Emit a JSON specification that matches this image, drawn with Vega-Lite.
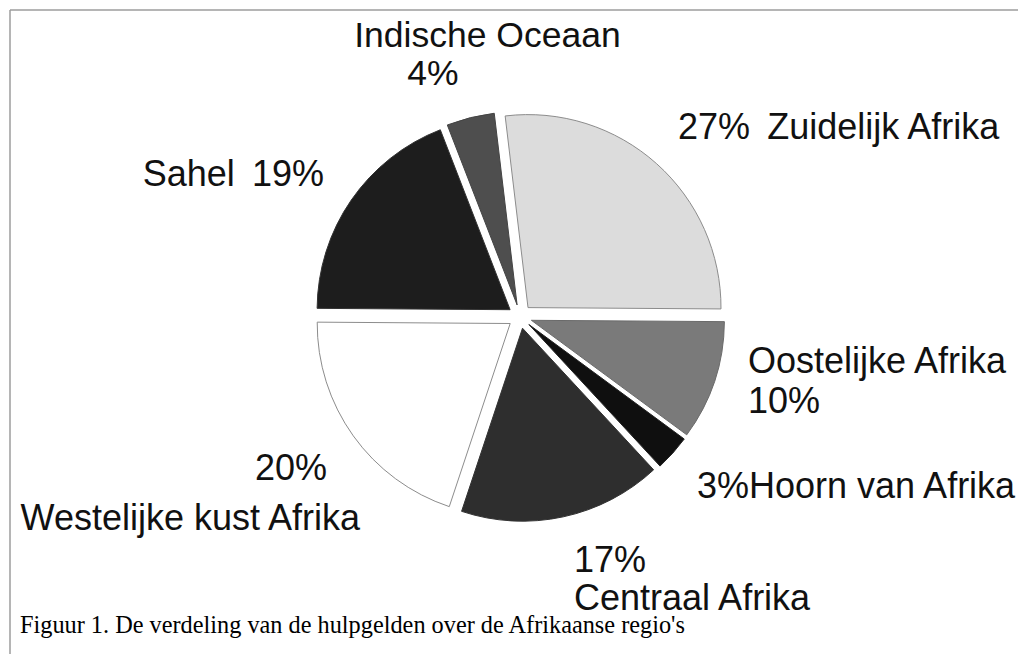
{
  "$schema": "https://vega.github.io/schema/vega-lite/v6.json",
  "width": 1008,
  "height": 644,
  "autosize": {"type": "none"},
  "padding": {"left": 10, "top": 10, "right": 0, "bottom": 0},
  "background": "white",
  "config": {
    "view": {"stroke": null},
    "text": {"font": "Liberation Sans", "fontSize": 36, "color": "#111111", "baseline": "alphabetic"}
  },
  "title": {
    "text": "Figuur 1. De verdeling van de hulpgelden over de Afrikaanse regio's",
    "orient": "bottom",
    "anchor": "start",
    "frame": "group",
    "offset": -22,
    "dx": 10,
    "baseline": "alphabetic",
    "font": "Liberation Serif",
    "fontSize": 24.3,
    "fontWeight": "normal",
    "color": "#000000"
  },
  "data": {
    "values": [
      {"regio": "Zuidelijk Afrika", "aandeel": 27, "volgorde": 1},
      {"regio": "Oostelijke Afrika", "aandeel": 10, "volgorde": 2},
      {"regio": "Hoorn van Afrika", "aandeel": 3, "volgorde": 3},
      {"regio": "Centraal Afrika", "aandeel": 17, "volgorde": 4},
      {"regio": "Westelijke kust Afrika", "aandeel": 20, "volgorde": 5},
      {"regio": "Sahel", "aandeel": 19, "volgorde": 6},
      {"regio": "Indische Oceaan", "aandeel": 4, "volgorde": 7}
    ]
  },
  "transform": [
    {"stack": "aandeel", "groupby": [], "sort": [{"field": "volgorde", "order": "ascending"}], "as": ["p0", "p1"]},
    {"calculate": "(datum.p0 + datum.p1) / 2", "as": "pmid"},
    {"calculate": "datum.aandeel + '%'", "as": "label"}
  ],
  "layer": [
    {
      "transform": [{"filter": "datum.volgorde === 1"}],
      "mark": {"type": "rule", "color": "#9c9c9c", "strokeWidth": 1.5},
      "encoding": {"y": {"datum": 1, "type": "quantitative", "scale": {"domain": [0, 1]}, "axis": null}}
    },
    {
      "transform": [{"filter": "datum.volgorde === 1"}],
      "mark": {"type": "rule", "color": "#9c9c9c", "strokeWidth": 1.5},
      "encoding": {"x": {"datum": 0, "type": "quantitative", "scale": {"domain": [0, 1]}, "axis": null}}
    },
    {
      "transform": [{"filter": "datum.regio === 'Zuidelijk Afrika'"}],
      "mark": {"type": "arc", "radius": 193, "xOffset": 14, "yOffset": -24.4, "stroke": "#8c8c8c", "strokeWidth": 1},
      "encoding": {
        "theta": {"field": "p0", "type": "quantitative", "stack": null, "scale": {"type": "linear", "domain": [0, 100], "range": [-0.1187, 6.1645]}},
        "theta2": {"field": "p1"},
        "color": {"field": "regio", "type": "nominal", "legend": null, "scale": {"domain": ["Zuidelijk Afrika", "Oostelijke Afrika", "Hoorn van Afrika", "Centraal Afrika", "Westelijke kust Afrika", "Sahel", "Indische Oceaan"], "range": ["#dcdcdc", "#7a7a7a", "#0f0f0f", "#2e2e2e", "#ffffff", "#1d1d1d", "#4e4e4e"]}}
      }
    },
    {
      "transform": [{"filter": "datum.regio === 'Oostelijke Afrika'"}],
      "mark": {"type": "arc", "radius": 193, "xOffset": 17.4, "yOffset": -11.7, "stroke": "#6a6a6a", "strokeWidth": 1},
      "encoding": {
        "theta": {"field": "p0", "type": "quantitative", "stack": null, "scale": {"type": "linear", "domain": [0, 100], "range": [-0.1187, 6.1645]}},
        "theta2": {"field": "p1"},
        "color": {"field": "regio", "type": "nominal", "legend": null, "scale": {"domain": ["Zuidelijk Afrika", "Oostelijke Afrika", "Hoorn van Afrika", "Centraal Afrika", "Westelijke kust Afrika", "Sahel", "Indische Oceaan"], "range": ["#dcdcdc", "#7a7a7a", "#0f0f0f", "#2e2e2e", "#ffffff", "#1d1d1d", "#4e4e4e"]}}
      }
    },
    {
      "transform": [{"filter": "datum.regio === 'Hoorn van Afrika'"}],
      "mark": {"type": "arc", "radius": 193, "xOffset": 14.9, "yOffset": -7.5, "stroke": "#222222", "strokeWidth": 1},
      "encoding": {
        "theta": {"field": "p0", "type": "quantitative", "stack": null, "scale": {"type": "linear", "domain": [0, 100], "range": [-0.1187, 6.1645]}},
        "theta2": {"field": "p1"},
        "color": {"field": "regio", "type": "nominal", "legend": null, "scale": {"domain": ["Zuidelijk Afrika", "Oostelijke Afrika", "Hoorn van Afrika", "Centraal Afrika", "Westelijke kust Afrika", "Sahel", "Indische Oceaan"], "range": ["#dcdcdc", "#7a7a7a", "#0f0f0f", "#2e2e2e", "#ffffff", "#1d1d1d", "#4e4e4e"]}}
      }
    },
    {
      "transform": [{"filter": "datum.regio === 'Centraal Afrika'"}],
      "mark": {"type": "arc", "radius": 193, "xOffset": 8.5, "yOffset": -3.8, "stroke": "#333333", "strokeWidth": 1},
      "encoding": {
        "theta": {"field": "p0", "type": "quantitative", "stack": null, "scale": {"type": "linear", "domain": [0, 100], "range": [-0.1187, 6.1645]}},
        "theta2": {"field": "p1"},
        "color": {"field": "regio", "type": "nominal", "legend": null, "scale": {"domain": ["Zuidelijk Afrika", "Oostelijke Afrika", "Hoorn van Afrika", "Centraal Afrika", "Westelijke kust Afrika", "Sahel", "Indische Oceaan"], "range": ["#dcdcdc", "#7a7a7a", "#0f0f0f", "#2e2e2e", "#ffffff", "#1d1d1d", "#4e4e4e"]}}
      }
    },
    {
      "transform": [{"filter": "datum.regio === 'Westelijke kust Afrika'"}],
      "mark": {"type": "arc", "radius": 193, "xOffset": -3.8, "yOffset": -8.5, "stroke": "#8c8c8c", "strokeWidth": 1},
      "encoding": {
        "theta": {"field": "p0", "type": "quantitative", "stack": null, "scale": {"type": "linear", "domain": [0, 100], "range": [-0.1187, 6.1645]}},
        "theta2": {"field": "p1"},
        "color": {"field": "regio", "type": "nominal", "legend": null, "scale": {"domain": ["Zuidelijk Afrika", "Oostelijke Afrika", "Hoorn van Afrika", "Centraal Afrika", "Westelijke kust Afrika", "Sahel", "Indische Oceaan"], "range": ["#dcdcdc", "#7a7a7a", "#0f0f0f", "#2e2e2e", "#ffffff", "#1d1d1d", "#4e4e4e"]}}
      }
    },
    {
      "transform": [{"filter": "datum.regio === 'Sahel'"}],
      "mark": {"type": "arc", "radius": 193, "xOffset": -3.9, "yOffset": -22.3, "stroke": "#333333", "strokeWidth": 1},
      "encoding": {
        "theta": {"field": "p0", "type": "quantitative", "stack": null, "scale": {"type": "linear", "domain": [0, 100], "range": [-0.1187, 6.1645]}},
        "theta2": {"field": "p1"},
        "color": {"field": "regio", "type": "nominal", "legend": null, "scale": {"domain": ["Zuidelijk Afrika", "Oostelijke Afrika", "Hoorn van Afrika", "Centraal Afrika", "Westelijke kust Afrika", "Sahel", "Indische Oceaan"], "range": ["#dcdcdc", "#7a7a7a", "#0f0f0f", "#2e2e2e", "#ffffff", "#1d1d1d", "#4e4e4e"]}}
      }
    },
    {
      "transform": [{"filter": "datum.regio === 'Indische Oceaan'"}],
      "mark": {"type": "arc", "radius": 193, "xOffset": 3.1, "yOffset": -27.1, "stroke": "#444444", "strokeWidth": 1},
      "encoding": {
        "theta": {"field": "p0", "type": "quantitative", "stack": null, "scale": {"type": "linear", "domain": [0, 100], "range": [-0.1187, 6.1645]}},
        "theta2": {"field": "p1"},
        "color": {"field": "regio", "type": "nominal", "legend": null, "scale": {"domain": ["Zuidelijk Afrika", "Oostelijke Afrika", "Hoorn van Afrika", "Centraal Afrika", "Westelijke kust Afrika", "Sahel", "Indische Oceaan"], "range": ["#dcdcdc", "#7a7a7a", "#0f0f0f", "#2e2e2e", "#ffffff", "#1d1d1d", "#4e4e4e"]}}
      }
    },
    {
      "transform": [{"filter": "datum.regio === 'Zuidelijk Afrika'"}, {"calculate": "datum.label + '\u2009 ' + datum.regio", "as": "t"}],
      "mark": {"type": "text", "radius": 250, "dx": -2.6, "dy": -6.6, "align": "left"},
      "encoding": {
        "theta": {"field": "pmid", "type": "quantitative", "stack": null, "scale": {"type": "linear", "domain": [0, 100], "range": [-0.1187, 6.1645]}},
        "text": {"field": "t", "type": "nominal"}
      }
    },
    {
      "transform": [{"filter": "datum.regio === 'Oostelijke Afrika'"}, {"calculate": "datum.regio + '\\n' + datum.label", "as": "t"}],
      "mark": {"type": "text", "radius": 250, "dx": -3.2, "dy": -37.9, "align": "left", "lineBreak": "\n", "lineHeight": 40},
      "encoding": {
        "theta": {"field": "pmid", "type": "quantitative", "stack": null, "scale": {"type": "linear", "domain": [0, 100], "range": [-0.1187, 6.1645]}},
        "text": {"field": "t", "type": "nominal"}
      }
    },
    {
      "transform": [{"filter": "datum.regio === 'Hoorn van Afrika'"}, {"calculate": "datum.label + datum.regio", "as": "t"}],
      "mark": {"type": "text", "radius": 250, "dx": -3.4, "dy": -0.6, "align": "left"},
      "encoding": {
        "theta": {"field": "pmid", "type": "quantitative", "stack": null, "scale": {"type": "linear", "domain": [0, 100], "range": [-0.1187, 6.1645]}},
        "text": {"field": "t", "type": "nominal"}
      }
    },
    {
      "transform": [{"filter": "datum.regio === 'Centraal Afrika'"}, {"calculate": "datum.label + '\\n' + datum.regio", "as": "t"}],
      "mark": {"type": "text", "radius": 250, "dx": 7.2, "dy": -4.4, "align": "left", "lineBreak": "\n", "lineHeight": 38},
      "encoding": {
        "theta": {"field": "pmid", "type": "quantitative", "stack": null, "scale": {"type": "linear", "domain": [0, 100], "range": [-0.1187, 6.1645]}},
        "text": {"field": "t", "type": "nominal"}
      }
    },
    {
      "transform": [{"filter": "datum.regio === 'Westelijke kust Afrika'"}],
      "mark": {"type": "text", "radius": 250, "dx": 49.3, "dy": 52.5, "align": "right"},
      "encoding": {
        "theta": {"field": "pmid", "type": "quantitative", "stack": null, "scale": {"type": "linear", "domain": [0, 100], "range": [-0.1187, 6.1645]}},
        "text": {"field": "regio", "type": "nominal"}
      }
    },
    {
      "transform": [{"filter": "datum.regio === 'Westelijke kust Afrika'"}],
      "mark": {"type": "text", "radius": 250, "dx": 16.3, "dy": 2.5, "align": "right"},
      "encoding": {
        "theta": {"field": "pmid", "type": "quantitative", "stack": null, "scale": {"type": "linear", "domain": [0, 100], "range": [-0.1187, 6.1645]}},
        "text": {"field": "label", "type": "nominal"}
      }
    },
    {
      "transform": [{"filter": "datum.regio === 'Sahel'"}, {"calculate": "datum.regio + '\u2009 ' + datum.label", "as": "t"}],
      "mark": {"type": "text", "radius": 250, "dx": 15.8, "dy": -4, "align": "right"},
      "encoding": {
        "theta": {"field": "pmid", "type": "quantitative", "stack": null, "scale": {"type": "linear", "domain": [0, 100], "range": [-0.1187, 6.1645]}},
        "text": {"field": "t", "type": "nominal"}
      }
    },
    {
      "transform": [{"filter": "datum.regio === 'Indische Oceaan'"}],
      "mark": {"type": "text", "radius": 280, "dx": 41.2, "dy": -13.3, "align": "center", "fontSize": 35.5},
      "encoding": {
        "theta": {"field": "pmid", "type": "quantitative", "stack": null, "scale": {"type": "linear", "domain": [0, 100], "range": [-0.1187, 6.1645]}},
        "text": {"field": "regio", "type": "nominal"}
      }
    },
    {
      "transform": [{"filter": "datum.regio === 'Indische Oceaan'"}],
      "mark": {"type": "text", "radius": 280, "dx": -13.3, "dy": 24.7, "align": "center", "fontSize": 35.5},
      "encoding": {
        "theta": {"field": "pmid", "type": "quantitative", "stack": null, "scale": {"type": "linear", "domain": [0, 100], "range": [-0.1187, 6.1645]}},
        "text": {"field": "label", "type": "nominal"}
      }
    }
  ]
}
